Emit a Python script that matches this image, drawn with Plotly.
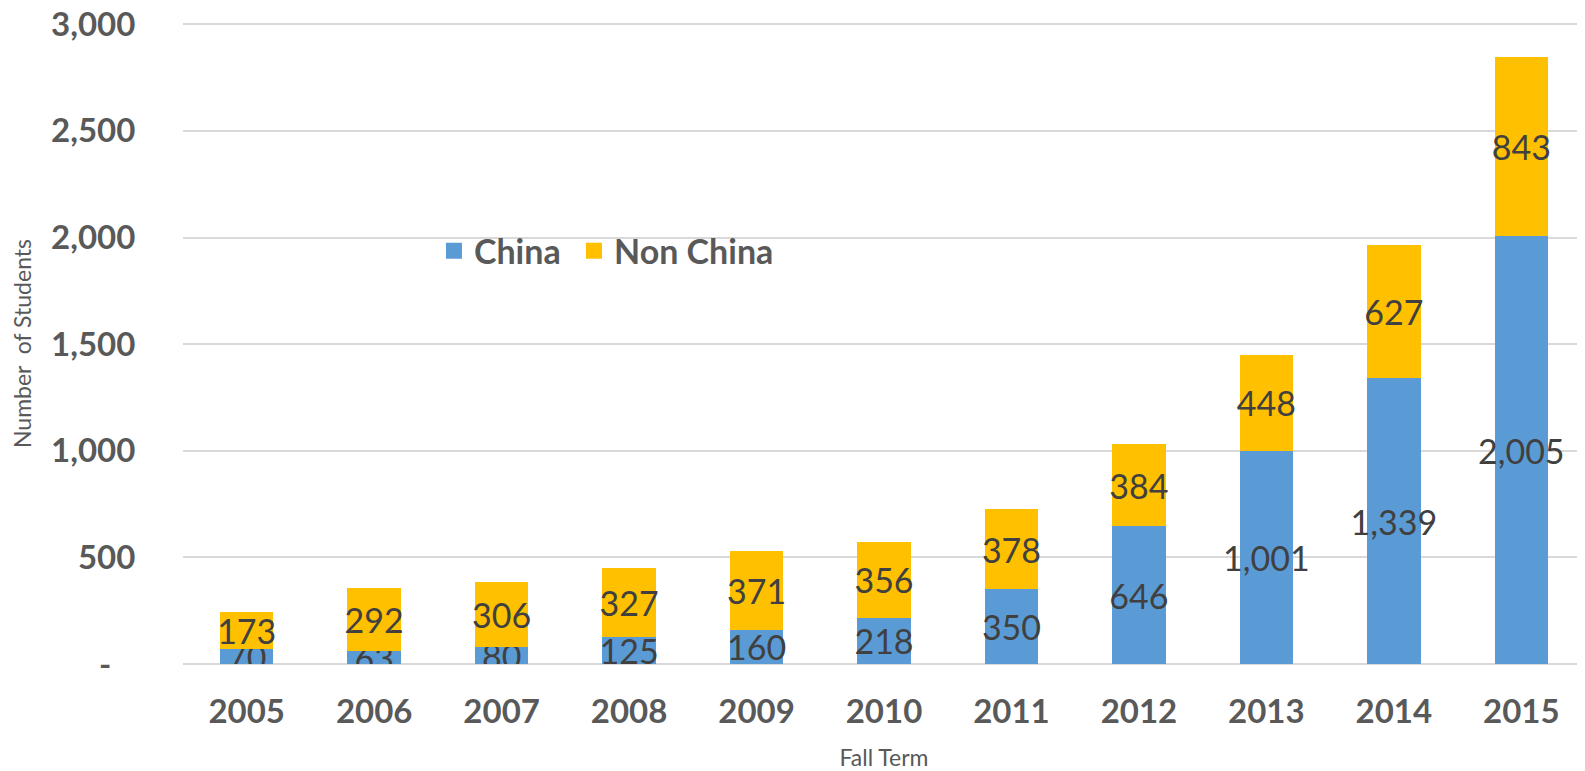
import plotly.graph_objects as go

years = ["2005", "2006", "2007", "2008", "2009", "2010", "2011", "2012", "2013", "2014", "2015"]
china = [70, 63, 80, 125, 160, 218, 350, 646, 1001, 1339, 2005]
non_china = [173, 292, 306, 327, 371, 356, 378, 384, 448, 627, 843]
y_tickvals = [0, 500, 1000, 1500, 2000, 2500, 3000]
y_ticktext = ["-\u00a0\u00a0\u00a0", "500", "1,000", "1,500", "2,000", "2,500", "3,000"]

FONT = "Lato"
label_font = dict(family=FONT, size=34, color="#404040")
BLUE = "#5B9BD5"
GOLD = "#FFC000"

fig = go.Figure()
fig.add_trace(go.Bar(
    x=years, y=china, name="China", marker=dict(color=BLUE, line=dict(width=0)),
    text=[f"{v:,}" for v in china], textposition="inside", insidetextanchor="middle",
    constraintext="none", textfont=label_font, textangle=0, showlegend=False,
))
fig.add_trace(go.Bar(
    x=years, y=non_china, name="Non China", marker=dict(color=GOLD, line=dict(width=0)),
    text=[f"{v:,}" for v in non_china], textposition="inside", insidetextanchor="middle",
    constraintext="none", textfont=label_font, textangle=0, showlegend=False,
))
# legend entries with larger square swatches
for name, col in [("China\u00a0", BLUE), ("Non China", GOLD)]:
    fig.add_trace(go.Scatter(
        x=[None], y=[None], mode="markers", name=name,
        marker=dict(symbol="square", size=22, color=col),
        showlegend=True, hoverinfo="skip",
    ))

fig.update_layout(
    barmode="stack",
    bargap=0.58,
    width=1577, height=763,
    margin=dict(l=175, r=0, t=15, b=107),
    plot_bgcolor="white", paper_bgcolor="white",
    font=dict(family=FONT, color="#595959"),
    legend=dict(
        orientation="h", x=0.179, y=0.644, xanchor="left", yanchor="middle",
        font=dict(family=FONT, size=34, color="#595959", weight="bold"),
        bgcolor="rgba(0,0,0,0)", traceorder="normal",
        itemsizing="trace",
    ),
    xaxis=dict(
        automargin=False,
        title=dict(text="Fall Term", font=dict(family=FONT, size=23, color="#595959"), standoff=29),
        tickfont=dict(family=FONT, size=33, color="#595959", weight="bold"),
        ticks="outside", ticklen=18, tickcolor="rgba(0,0,0,0)",
        showline=False, showgrid=False,
    ),
    yaxis=dict(
        automargin=False,
        title=dict(text="Number  of Students", font=dict(family=FONT, size=23, color="#595959"), standoff=18),
        range=[0, 3006],
        tickvals=y_tickvals, ticktext=y_ticktext,
        tickfont=dict(family=FONT, size=33, color="#595959", weight="bold"),
        ticklabeloverflow="allow",
        ticks="outside", ticklen=40, tickcolor="rgba(0,0,0,0)",
        showgrid=True, gridcolor="#D9D9D9", gridwidth=2,
        zeroline=True, zerolinecolor="#D9D9D9", zerolinewidth=2,
        showline=False,
    ),
)

fig.write_html("out.html")
